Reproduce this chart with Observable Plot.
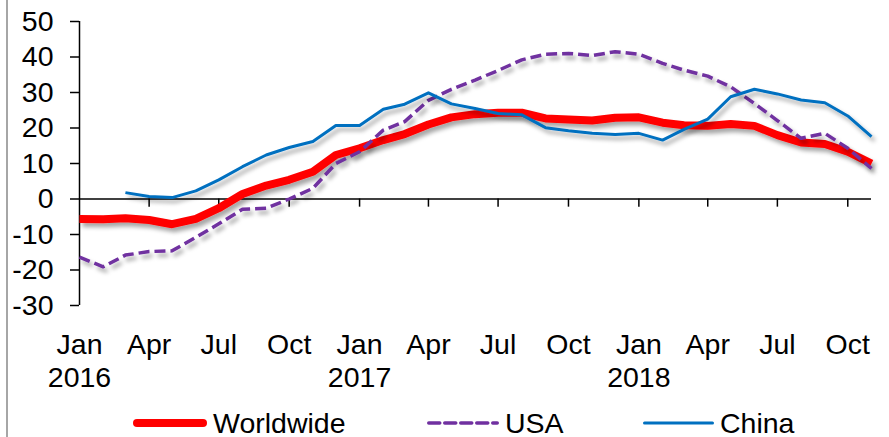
<!DOCTYPE html>
<html><head><meta charset="utf-8">
<script src="https://cdn.jsdelivr.net/npm/d3@7"></script>
<script src="https://cdn.jsdelivr.net/npm/@observablehq/plot@0.6"></script>
<style>
body{margin:0;background:#fff;font-family:"Liberation Sans",Arial,sans-serif;}
#wrap{position:relative;width:889px;height:437px;overflow:hidden;}
#border{position:absolute;left:6px;top:0;width:2px;height:437px;background:#a6a6a6;}
#legend{position:absolute;left:0;top:400px;width:889px;height:37px;font-size:28.5px;color:#000;}
.item{position:absolute;top:0;height:46px;display:flex;align-items:center;white-space:nowrap;}
.item svg{margin-right:6px;}
</style></head><body>
<div id="wrap"><div id="chart"></div><div id="legend"></div><div id="border"></div></div>
<script>
const months = ["2016-01","2016-02","2016-03","2016-04","2016-05","2016-06","2016-07","2016-08","2016-09","2016-10","2016-11","2016-12",
"2017-01","2017-02","2017-03","2017-04","2017-05","2017-06","2017-07","2017-08","2017-09","2017-10","2017-11","2017-12",
"2018-01","2018-02","2018-03","2018-04","2018-05","2018-06","2018-07","2018-08","2018-09","2018-10","2018-11"];
const worldwide = [-5.6,-5.7,-5.4,-5.9,-7.1,-5.6,-2.6,1.4,3.8,5.4,7.7,12.4,
14.3,16.6,18.3,21.0,23.0,23.9,24.3,24.3,22.7,22.4,22.1,22.9,
23.0,21.5,20.8,20.6,21.1,20.6,18.0,15.9,15.5,13.3,10.0];
const usa = [-16.4,-19.1,-15.8,-14.8,-14.6,-10.8,-7.0,-2.9,-2.6,0.0,3.0,10.0,
13.3,19.4,21.8,27.8,30.9,33.5,36.2,39.2,40.8,41.0,40.4,41.5,
40.8,38.2,36.3,34.6,31.6,26.9,22.1,17.1,18.5,14.3,8.6];
const china = [null,null,1.8,0.7,0.4,2.3,5.4,9.1,12.4,14.5,16.2,20.7,
20.7,25.3,26.7,29.9,26.8,25.5,24.1,23.7,20.1,19.2,18.5,18.2,
18.5,16.6,19.6,22.5,28.8,30.9,29.6,27.9,27.1,23.4,17.6];
const seriesNames = ["Worldwide","USA","China"];
const seriesColors = ["#ff0000","#7030a0","#0070c0"];
const yTicks = [-30,-20,-10,0,10,20,30,40,50];
const tickMonths = ["2016-01","2016-04","2016-07","2016-10","2017-01","2017-04","2017-07","2017-10","2018-01","2018-04","2018-07","2018-10"];
const tickLabels = ["Jan\n2016","Apr","Jul","Oct","Jan\n2017","Apr","Jul","Oct","Jan\n2018","Apr","Jul","Oct"];

const parse = s => new Date(s + "-01T00:00:00Z");
const tickDates = tickMonths.map(parse);
const labelMap = new Map(tickDates.map((d,i)=>[+d, tickLabels[i]]));
const x0 = parse(months[0]), x1 = parse(months[months.length-1]);
const seriesValues = [worldwide, usa, china];
const rows = [];
seriesNames.forEach((name, k) => seriesValues[k].forEach((v, i) => {
  if (v != null) rows.push({date: parse(months[i]), value: v, name});
}));
const lineStyles = {
  Worldwide: {stroke: seriesColors[0], strokeWidth: 8},
  USA: {stroke: seriesColors[1], strokeWidth: 3.5, strokeDasharray: "11,5"},
  China: {stroke: seriesColors[2], strokeWidth: 3}
};

const chart = Plot.plot({
  width: 889, height: 400,
  marginLeft: 79, marginRight: 18, marginTop: 21, marginBottom: 95,
  style: {fontFamily: "'Liberation Sans', Arial, sans-serif", fontSize: "28.5px", color: "#000", background: "transparent", overflow: "visible"},
  x: {type: "utc", domain: [x0, x1], label: null},
  y: {domain: [-30, 50], label: null},
  marks: [
    Plot.axisY({ticks: yTicks, tickSize: 9, tickPadding: 17, fontSize: 28.5, tickFormat: d => String(d), strokeWidth: 1.5, label: null}),
    Plot.axisX({ticks: tickDates, tickFormat: d => labelMap.get(+d), tickSize: 0, tickPadding: 25, fontSize: 28.5, lineHeight: 1.16, label: null}),
    Plot.ruleX([x0], {y1: -30, y2: 50, stroke: "#000", strokeWidth: 1.5}),
    Plot.ruleY([0], {stroke: "#000", strokeWidth: 1.5}),
    Plot.ruleX(tickDates.slice(1), {y1: 0, y2: -2.3, stroke: "#000", strokeWidth: 1.5}),
    ...seriesNames.map(n => Plot.line(rows.filter(r => r.name === n), {x: "date", y: "value", strokeLinejoin: "round", strokeLinecap: "butt", ...lineStyles[n]}))
  ]
});

const ns = "http://www.w3.org/2000/svg";
const defs = document.createElementNS(ns, "defs");
defs.innerHTML = '<filter id="shadow" x="-10%" y="-10%" width="130%" height="140%"><feDropShadow dx="3" dy="4" stdDeviation="2" flood-color="#000" flood-opacity="0.35"/></filter>';
chart.insertBefore(defs, chart.firstChild);
chart.querySelectorAll('g[aria-label="line"]').forEach(g => g.setAttribute("filter", "url(#shadow)"));
document.getElementById("chart").appendChild(chart);

// legend
const legendPos = [{x: 133, w: 74}, {x: 427, w: 72}, {x: 643, w: 71}];
const legend = document.getElementById("legend");
seriesNames.forEach((n, k) => {
  const s = lineStyles[n];
  const item = document.createElement("div");
  item.className = "item";
  item.style.left = legendPos[k].x + "px";
  item.innerHTML = `<svg width="${legendPos[k].w}" height="12"><line x1="${s.strokeWidth/2}" x2="${legendPos[k].w - s.strokeWidth/2}" y1="6" y2="6" stroke="${s.stroke}" stroke-width="${s.strokeWidth}" stroke-linecap="round" ${s.strokeDasharray ? `stroke-dasharray="${s.strokeDasharray}"` : ""}/></svg><span>${n}</span>`;
  legend.appendChild(item);
});
</script>
</body></html>
